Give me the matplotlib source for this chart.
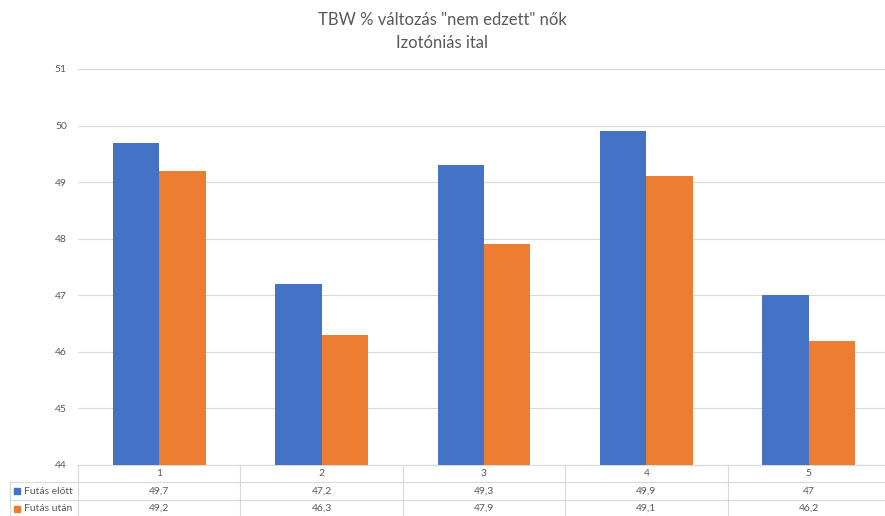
import numpy as np
import matplotlib.pyplot as plt
import matplotlib.transforms as mtransforms

# TBW % values, untrained women, isotonic drink
categories = ["1", "2", "3", "4", "5"]
series_names = ["Futás előtt", "Futás után"]
before = [49.7, 47.2, 49.3, 49.9, 47.0]
after = [49.2, 46.3, 47.9, 49.1, 46.2]
table_before = ["49,7", "47,2", "49,3", "49,9", "47"]
table_after = ["49,2", "46,3", "47,9", "49,1", "46,2"]
y_ticks = [44, 45, 46, 47, 48, 49, 50, 51]

blue = "#4472C4"
orange = "#ED7D31"
grey_text = "#595959"
grid_col = "#D9D9D9"

plt.rcParams['font.family'] = ['Lato', 'DejaVu Sans']

W, H = 885, 516
fig = plt.figure(figsize=(W / 100, H / 100), dpi=100)

# plot area in pixel coords
left, right, top, bottom = 78, 890, 69, 465
ax = fig.add_axes([left / W, 1 - bottom / H, (right - left) / W, (bottom - top) / H])

x = np.arange(len(categories))
bw = 0.286
ax.bar(x - bw / 2, [v - 44 for v in before], bw, bottom=44, color=blue, zorder=3)
ax.bar(x + bw / 2, [v - 44 for v in after], bw, bottom=44, color=orange, zorder=3)

ax.set_xlim(-0.5, len(categories) - 0.5)
ax.set_ylim(44, 51)
ax.set_yticks(y_ticks)
ax.set_yticklabels([str(t) for t in y_ticks], color=grey_text, fontsize=7.5)
ax.tick_params(axis='y', length=0, pad=8)
ax.set_xticks([])
ax.yaxis.grid(True, color=grid_col, linewidth=0.8, zorder=0)
for s in ["top", "right", "left"]:
    ax.spines[s].set_visible(False)
ax.spines["bottom"].set_color(grid_col)
ax.spines["bottom"].set_linewidth(0.8)

fig.text(0.5, 1 - 20 / H, 'TBW % változás "nem edzett" nők', ha='center', va='center',
         color=grey_text, fontsize=12)
fig.text(0.5, 1 - 43 / H, 'Izotóniás ital', ha='center', va='center',
         color=grey_text, fontsize=12)

# data table below the plot
row_lines = [482, 500]
row_centers = [473.5, 491, 508.5]
trans = mtransforms.blended_transform_factory(ax.transData, fig.transFigure)

def fy(py):
    return 1 - py / H

for py in row_lines:
    fig.add_artist(plt.Line2D([10 / W, 1], [fy(py), fy(py)], color=grid_col, lw=0.8))
fig.add_artist(plt.Line2D([left / W, left / W], [fy(465), 0], color=grid_col, lw=0.8))
fig.add_artist(plt.Line2D([10 / W, 10 / W], [fy(482), 0], color=grid_col, lw=0.8))
for b in np.arange(0.5, len(categories) - 0.5, 1):
    ax.add_artist(plt.Line2D([b, b], [fy(465), 0], transform=trans, color=grid_col,
                             lw=0.8, clip_on=False))

for i, c in enumerate(categories):
    ax.text(i, fy(row_centers[0]), c, transform=trans, ha='center', va='center',
            color=grey_text, fontsize=7.5)
    ax.text(i, fy(row_centers[1]), table_before[i], transform=trans, ha='center',
            va='center', color=grey_text, fontsize=7.5)
    ax.text(i, fy(row_centers[2]), table_after[i], transform=trans, ha='center',
            va='center', color=grey_text, fontsize=7.5)

for name, col, py in zip(series_names, [blue, orange], row_centers[1:]):
    fig.patches.append(plt.Rectangle((14 / W, fy(py) - 3 / H), 6 / W, 6 / H,
                                     transform=fig.transFigure, color=col, figure=fig))
    fig.text(24 / W, fy(py), name, ha='left', va='center', color=grey_text, fontsize=7.5)

fig.savefig("out.png", dpi=100)
